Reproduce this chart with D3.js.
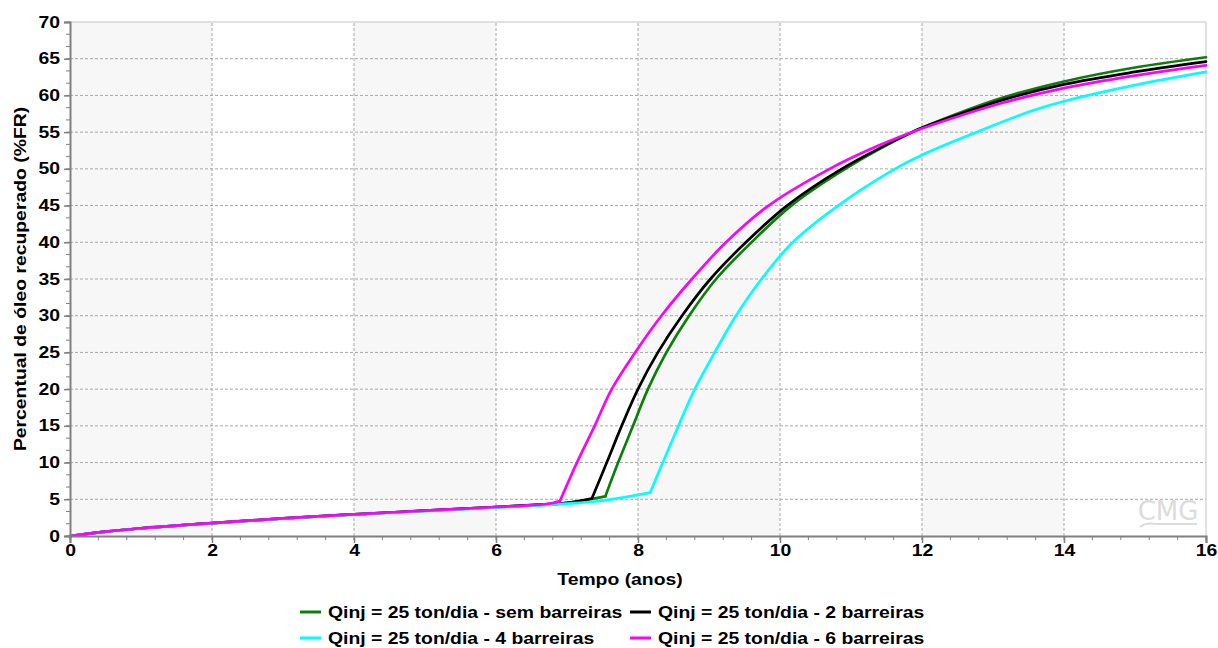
<!DOCTYPE html>
<html>
<head>
<meta charset="utf-8">
<script src="https://cdn.jsdelivr.net/npm/d3@7"></script>
<style>
  body { margin: 0; background: #fff; }
  text { font-family: "Liberation Sans", Arial, sans-serif; }
</style>
</head>
<body>
<div id="chart"></div>
<script>
// base curve shared by the series before breakthrough
const baseCurve = [[0, 0], [0.5, 0.6], [1, 1.05], [2, 1.75], [3, 2.4], [4, 2.95], [5, 3.45], [6, 3.95], [6.5, 4.2]];

const semBarreiras = baseCurve.concat([[7.0, 4.5], [7.54, 5.4], [7.72, 10], [7.93, 15], [8.14, 20], [8.4, 25], [8.72, 30],
  [9.1, 35], [9.6, 40], [10.16, 45], [10.92, 50], [11.86, 55], [12, 55.6], [13.14, 59.7],
  [14, 61.9], [15, 63.8], [16, 65.2]]);

const duasBarreiras = baseCurve.concat([[7.0, 4.5], [7.35, 5.1], [7.56, 10], [7.77, 15], [8.0, 20], [8.28, 25], [8.62, 30],
  [9.02, 35], [9.52, 40], [10.1, 45], [10.87, 50], [11.86, 55], [12, 55.6], [13.14, 59.4],
  [14, 61.5], [15, 63.2], [16, 64.6]]);

const quatroBarreiras = [[0, 0], [0.5, 0.58], [1, 1.02], [2, 1.72], [3, 2.36], [4, 2.9], [5, 3.38], [6, 3.85], [7, 4.4],
  [7.5, 4.8], [8.17, 5.9], [8.35, 10], [8.57, 15], [8.8, 20], [9.08, 25], [9.38, 30], [9.74, 35], [10.18, 40],
  [10.82, 45], [11.62, 50], [12, 51.9], [12.77, 55], [13.52, 57.8], [14, 59.2], [15, 61.4], [16, 63.2]];

const seisBarreiras = baseCurve.concat([[6.8, 4.5], [6.9, 4.75], [7.14, 10], [7.39, 15], [7.63, 20], [7.96, 25], [8.33, 30],
  [8.76, 35], [9.24, 40], [9.84, 45], [10.7, 50], [11.3, 52.8], [11.86, 55], [12, 55.5], [13.14, 59.0],
  [14, 61.0], [15, 62.7], [16, 64.1]]);

// time at which each curve breaks away from the base curve
const breakTimes = [7.54, 7.35, 8.17, 6.9];

const seriesNames = ['Qinj = 25 ton/dia - sem barreiras', 'Qinj = 25 ton/dia - 2 barreiras',
  'Qinj = 25 ton/dia - 4 barreiras', 'Qinj = 25 ton/dia - 6 barreiras'];
const seriesColors = ['#0a800a', '#000000', '#00ffff', '#ff00ff'];
const seriesData = [semBarreiras, duasBarreiras, quatroBarreiras, seisBarreiras];

const xTicks = [0, 2, 4, 6, 8, 10, 12, 14, 16];
const yTicks = [0, 5, 10, 15, 20, 25, 30, 35, 40, 45, 50, 55, 60, 65, 70];

const width = 1218, height = 648;
const svg = d3.select('#chart').append('svg').attr('width', width).attr('height', height);

const x = d3.scaleLinear().domain([0, 16]).range([70, 1206]);
const y = d3.scaleLinear().domain([0, 70]).range([536, 22]);

// alternating background bands
const bands = d3.range(0, 16, 4);
svg.selectAll('.band').data(bands).enter().append('rect')
  .attr('x', d => x(d)).attr('y', y(70))
  .attr('width', x(2) - x(0)).attr('height', y(0) - y(70))
  .attr('fill', '#f7f7f7');

// grid
svg.selectAll('.vgrid').data(xTicks.slice(1, -1)).enter().append('line')
  .attr('x1', d => x(d)).attr('x2', d => x(d)).attr('y1', y(0)).attr('y2', y(70))
  .attr('stroke', '#a8a8a8').attr('stroke-dasharray', '3,2');
svg.selectAll('.hgrid').data(yTicks.slice(1, -1)).enter().append('line')
  .attr('x1', x(0)).attr('x2', x(16)).attr('y1', d => y(d)).attr('y2', d => y(d))
  .attr('stroke', '#a8a8a8').attr('stroke-dasharray', '3,2');

// top / right border
svg.append('path')
  .attr('d', `M${x(0)},${y(70)}H${x(16)}V${y(0)}`)
  .attr('fill', 'none').attr('stroke', '#c4c4c4');

// CMG watermark
svg.append('text').attr('x', 1168).attr('y', 520).attr('text-anchor', 'middle')
  .style('font-size', '26px').style('font-family', 'DejaVu Sans, sans-serif')
  .attr('fill', '#dcdcdc').text('CMG');
svg.append('path').attr('d', 'M1140,527 Q1146,522 1156,524 L1197,524')
  .attr('fill', 'none').attr('stroke', '#dcdcdc').attr('stroke-width', 2);

// lines: base part and the rise after breakthrough drawn separately to keep the corner sharp
const baseLine = d3.line().x(d => x(d[0])).y(d => y(d[1])).curve(d3.curveMonotoneX);
const riseLine = d3.line().x(d => x(d[0])).y(d => y(d[1])).curve(d3.curveCatmullRom.alpha(0.5));
seriesData.forEach((s, i) => {
  const k = breakTimes[i];
  [[s.filter(d => d[0] <= k), baseLine], [s.filter(d => d[0] >= k), riseLine]].forEach(([pts, gen]) => {
    svg.append('path').datum(pts)
      .attr('fill', 'none').attr('stroke', seriesColors[i]).attr('stroke-width', 2.7)
      .attr('stroke-linejoin', 'round').attr('stroke-linecap', 'round').attr('d', gen);
  });
});

// axes
const xAxis = svg.append('g').attr('transform', `translate(0,${y(0)})`)
  .call(d3.axisBottom(x).tickValues(xTicks).tickSize(7).tickPadding(2).tickFormat(d3.format('d')));
xAxis.append('g').selectAll('line').data(d3.range(0, 16.01, 0.4)).enter().append('line')
  .attr('x1', d => x(d)).attr('x2', d => x(d)).attr('y1', 0).attr('y2', 4).attr('stroke', '#808080');

const yAxis = svg.append('g').attr('transform', `translate(${x(0)},0)`)
  .call(d3.axisLeft(y).tickValues(yTicks).tickSize(6).tickPadding(4));
yAxis.append('g').selectAll('line').data(d3.range(0, 70.01, 5 / 3)).enter().append('line')
  .attr('x1', 0).attr('x2', -4).attr('y1', d => y(d)).attr('y2', d => y(d)).attr('stroke', '#808080');

[xAxis, yAxis].forEach(a => {
  a.select('.domain').attr('stroke', '#808080').attr('stroke-width', 2);
  a.selectAll('.tick line').attr('stroke', '#808080').attr('stroke-width', 1.5);
  a.selectAll('.tick text').attr('fill', '#000')
    .style('font-size', '16px').style('font-weight', 'bold').style('font-family', '"Liberation Sans", Arial, sans-serif');
});

// axis titles
svg.append('text').attr('x', 620).attr('y', 585).attr('text-anchor', 'middle')
  .style('font-size', '16px').style('font-weight', 'bold').text('Tempo (anos)');
svg.append('text').attr('transform', `translate(26,279) rotate(-90)`)
  .attr('text-anchor', 'middle')
  .style('font-size', '16px').style('font-weight', 'bold').text('Percentual de óleo recuperado (%FR)');

// legend
const legendPos = [[300, 612], [630, 612], [300, 638], [630, 638]];
seriesNames.forEach((name, i) => {
  const [lx, ly] = legendPos[i];
  svg.append('line').attr('x1', lx).attr('x2', lx + 21).attr('y1', ly).attr('y2', ly)
    .attr('stroke', seriesColors[i]).attr('stroke-width', 3);
  svg.append('text').attr('x', lx + 28).attr('y', ly + 6)
    .style('font-size', '16px').style('font-weight', 'bold').text(name);
});

// the original font renders wider than Liberation Sans; stretch bold texts horizontally
svg.selectAll('text').filter(function() { return this.style.fontWeight === 'bold'; })
  .each(function() {
    const len = this.getComputedTextLength();
    d3.select(this).attr('textLength', len * 1.21).attr('lengthAdjust', 'spacingAndGlyphs');
  });
</script>
</body>
</html>
